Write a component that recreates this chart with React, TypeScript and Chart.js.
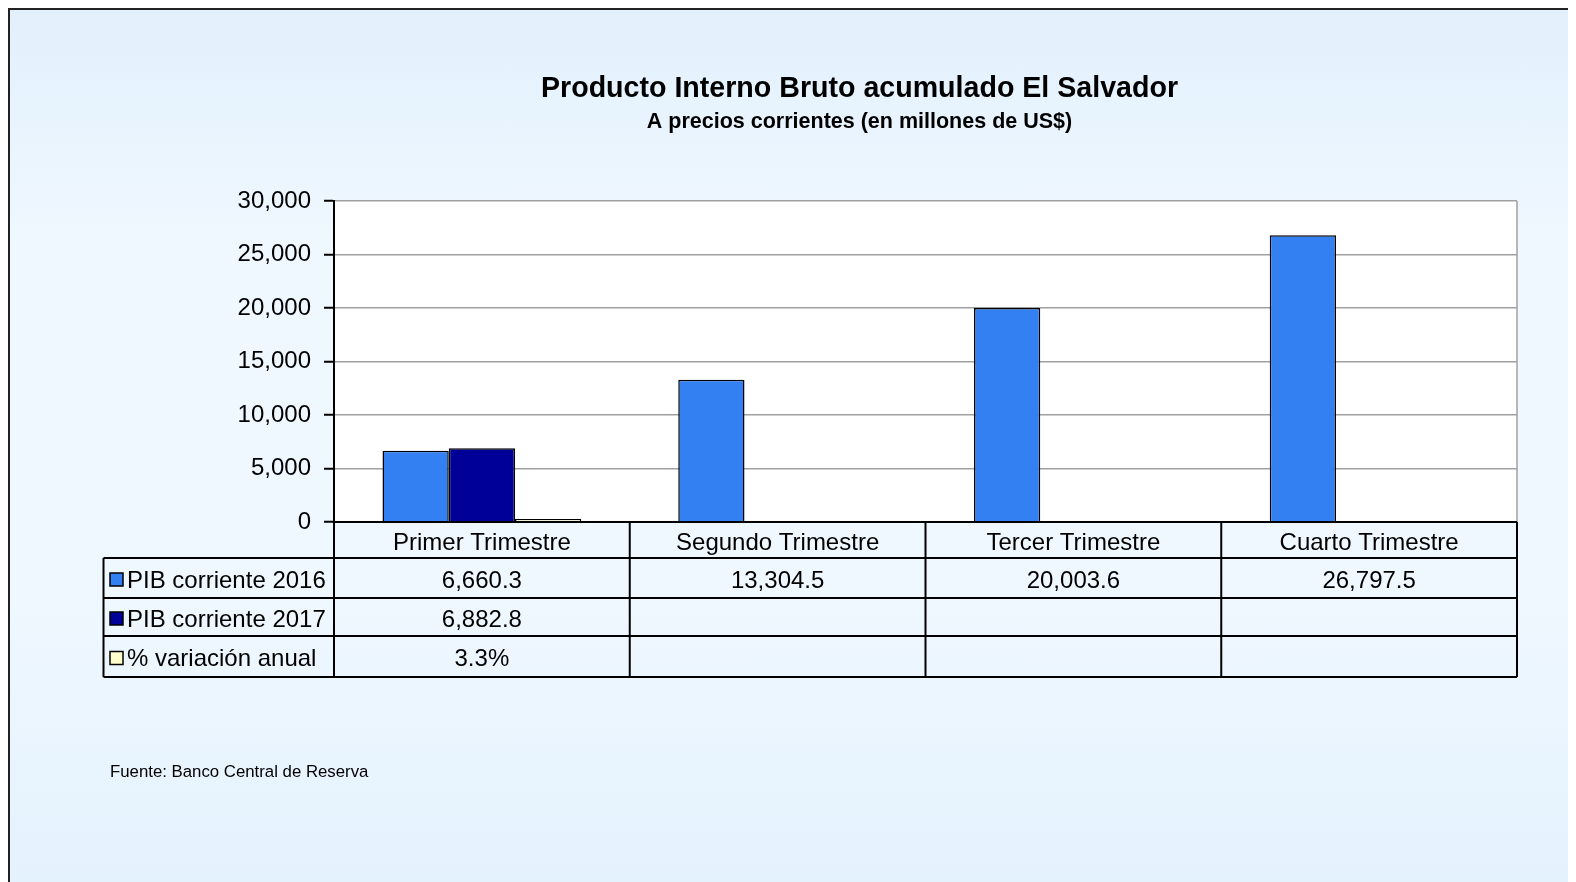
import React, { useEffect, useRef } from "react";
import { Chart, registerables } from "chart.js";

Chart.register(...registerables);

const categories = ["Primer Trimestre", "Segundo Trimestre", "Tercer Trimestre", "Cuarto Trimestre"];
const seriesNames = ["PIB corriente 2016", "PIB corriente 2017", "% variación anual"];
const pib2016 = [6660.3, 13304.5, 20003.6, 26797.5];
const pib2017: (number | null)[] = [6882.8, null, null, null];
const variacion: (number | null)[] = [3.3, null, null, null];
const seriesColors = ["#3380f2", "#000099", "#ffffcc"];
const yMin = 0;
const yMax = 30000;
const yStep = 5000;

const titleText = "Producto Interno Bruto acumulado El Salvador";
const subtitleText = "A precios corrientes (en millones de US$)";
const sourceText = "Fuente: Banco Central de Reserva";

const FONT = "'Liberation Sans', Arial, sans-serif";

const fmtNum = (v: number | null) =>
  v == null ? "" : v.toLocaleString("en-US", { minimumFractionDigits: 1, maximumFractionDigits: 1 });
const fmtPct = (v: number | null) => (v == null ? "" : v.toFixed(1) + "%");

const tablePlugin = {
  id: "dataTable",
  beforeDraw(chart: any) {
    const { ctx, chartArea } = chart;
    ctx.save();
    ctx.fillStyle = "#ffffff";
    ctx.fillRect(chartArea.left, chartArea.top, chartArea.right - chartArea.left, chartArea.bottom - chartArea.top);
    ctx.restore();
  },
  afterDraw(chart: any) {
    const { ctx, chartArea } = chart;
    const L = chartArea.left;
    const R = chartArea.right;
    const B = chartArea.bottom;
    const colW = (R - L) / categories.length;
    const legendLeft = 93.5;
    const rows = [B, B + 36, B + 76, B + 114, B + 155];

    ctx.save();
    // right border of plot
    ctx.strokeStyle = "#a0a0a0";
    ctx.lineWidth = 1.5;
    ctx.beginPath();
    ctx.moveTo(R, chartArea.top);
    ctx.lineTo(R, B);
    ctx.stroke();

    // titles
    ctx.fillStyle = "#000";
    ctx.textAlign = "center";
    ctx.textBaseline = "alphabetic";
    ctx.font = `bold 28.6px ${FONT}`;
    ctx.fillText(titleText, 849.5, 87);
    ctx.font = `bold 21.5px ${FONT}`;
    ctx.fillText(subtitleText, 849.5, 118);

    // table lines
    ctx.strokeStyle = "#000";
    ctx.lineWidth = 2;
    ctx.beginPath();
    ctx.moveTo(L, rows[0]);
    ctx.lineTo(R, rows[0]);
    for (let r = 1; r < rows.length; r++) {
      ctx.moveTo(legendLeft, rows[r]);
      ctx.lineTo(R, rows[r]);
    }
    ctx.moveTo(legendLeft, rows[1]);
    ctx.lineTo(legendLeft, rows[4]);
    for (let c = 0; c <= categories.length; c++) {
      const x = L + c * colW;
      ctx.moveTo(x, rows[0]);
      ctx.lineTo(x, rows[4]);
    }
    ctx.stroke();

    // header labels
    ctx.font = `24px ${FONT}`;
    ctx.textBaseline = "middle";
    ctx.textAlign = "center";
    categories.forEach((cat, i) => {
      ctx.fillText(cat, L + (i + 0.5) * colW, (rows[0] + rows[1]) / 2 + 3);
    });

    const rowVals = [pib2016.map(fmtNum), pib2017.map(fmtNum), variacion.map(fmtPct)];
    rowVals.forEach((vals, r) => {
      const cy = (rows[r + 1] + rows[r + 2]) / 2 + 3;
      // legend swatch
      ctx.fillStyle = seriesColors[r];
      ctx.fillRect(100, cy - 8, 13, 13);
      ctx.strokeStyle = "#000";
      ctx.lineWidth = 1.5;
      ctx.strokeRect(100, cy - 8, 13, 13);
      ctx.fillStyle = "#000";
      ctx.textAlign = "left";
      ctx.fillText(seriesNames[r], 117, cy);
      ctx.textAlign = "center";
      vals.forEach((v, i) => {
        if (v) ctx.fillText(v, L + (i + 0.5) * colW, cy);
      });
    });

    // source
    ctx.font = `16.8px ${FONT}`;
    ctx.textAlign = "left";
    ctx.fillText(sourceText, 100, 762);
    ctx.restore();
  },
};

export default function App() {
  const ref = useRef<HTMLCanvasElement | null>(null);
  useEffect(() => {
    if (!ref.current) return;
    const chart = new Chart(ref.current, {
      type: "bar",
      data: {
        labels: categories,
        datasets: [
          { label: seriesNames[0], data: pib2016, backgroundColor: seriesColors[0], borderColor: "#000", borderWidth: 1.5 },
          { label: seriesNames[1], data: pib2017, backgroundColor: seriesColors[1], borderColor: "#000", borderWidth: 1.5 },
          { label: seriesNames[2], data: variacion, backgroundColor: seriesColors[2], borderColor: "#000", borderWidth: 1.5, minBarLength: 3 },
        ],
      },
      options: {
        responsive: false,
        animation: false,
        layout: { padding: { top: 191, right: 59, bottom: 360, left: 0 } },
        datasets: { bar: { categoryPercentage: 0.672, barPercentage: 1 } },
        plugins: { legend: { display: false }, tooltip: { enabled: false }, title: { display: false } },
        scales: {
          x: { display: false },
          y: {
            min: yMin,
            max: yMax,
            afterFit: (scale: any) => {
              scale.width = 324;
            },
            ticks: {
              stepSize: yStep,
              color: "#000",
              padding: 13,
              font: { family: FONT, size: 24 },
              callback: (v: any) => Number(v).toLocaleString("en-US"),
            },
            grid: { color: "#a0a0a0", lineWidth: 1.5, tickColor: "#000", tickLength: 10, tickWidth: 2 },
            border: { color: "#000", width: 2 },
          },
        },
      },
      plugins: [tablePlugin],
    } as any);
    return () => chart.destroy();
  }, []);

  return (
    <div
      style={{
        width: 1566,
        height: 872,
        borderLeft: "2px solid #222",
        borderTop: "2px solid #222",
        background: "linear-gradient(to bottom, #e2f0fc 0%, #f0f8ff 28%, #f0f8ff 65%, #e4f2fd 100%)",
      }}
    >
      <style>{"html,body{overflow:hidden}"}</style>
      <canvas ref={ref} width={1566} height={872} style={{ display: "block" }} />
    </div>
  );
}
